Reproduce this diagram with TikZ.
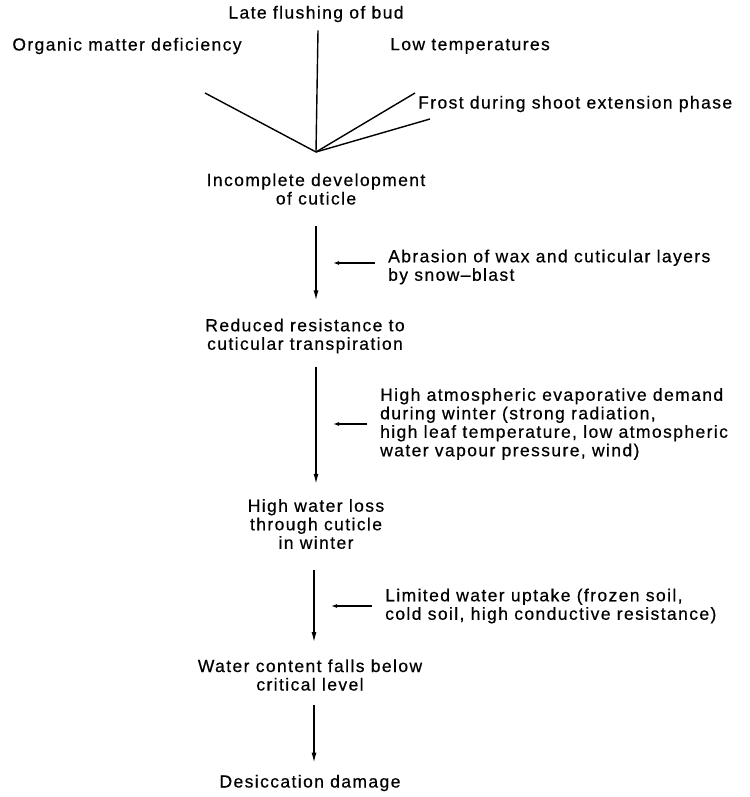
\documentclass[tikz,border=0pt]{standalone}
\usepackage{fontspec}
\setmainfont{Liberation Sans}[LetterSpace=8,FakeBold=0.5]
\usetikzlibrary{arrows.meta}

\begin{document}
\begin{tikzpicture}[x=1pt,y=-1pt,>={Latex[length=10pt,width=5pt]},
  every node/.style={font=\fontsize{17.5}{18.5}\selectfont,inner sep=0pt},
  stage/.style={align=center},
  factor/.style={align=left,anchor=west},
  fan/.style={line width=1.4pt},
  flow/.style={->,line width=1.4pt},
  push/.style={-{Latex[length=6pt,width=4pt]},line width=1.3pt,
               shorten <=13pt,shorten >=17pt}]
  \useasboundingbox (0,0) rectangle (749,797);

  % causes converging on the cuticle
  \node (late) at (316,14) {Late flushing of bud};
  \node (org) at (127,46) {Organic matter deficiency};
  \node[anchor=west] (lowt) at (390,46) {Low temperatures};
  \node[anchor=west] (frost) at (418,104) {Frost during shoot extension phase};
  \coordinate (hub) at (316,152);
  \coordinate (org-tip) at (205,93);
  \coordinate (lowt-tip) at (415,93);
  \coordinate (frost-tip) at (430,119);
  \draw[fan] (late.south) ++(2,8) -- (hub);
  \draw[fan] (org-tip) -- (hub);
  \draw[fan] (lowt-tip) -- (hub);
  \draw[fan] (frost-tip) -- (hub);

  % chain of stages
  \node[stage] (inc) at (316,189) {Incomplete development\\of cuticle};
  \node[stage] (red) at (305,336) {Reduced resistance to\\cuticular transpiration};
  \node[stage] (hwl) at (316,524) {High water loss\\through cuticle\\in winter};
  \node[stage] (wcf) at (310,675) {Water content falls below\\critical level};
  \node[stage] (des) at (310,783) {Desiccation damage};

  \draw[flow,shorten <=21pt,shorten >=18pt] (inc.south) -- (inc.south |- red.north);
  \draw[flow,shorten <=13pt,shorten >=15pt] (inc.south |- red.south) -- (inc.south |- hwl.north);
  \draw[flow,shorten <=21pt,shorten >=17pt] ([xshift=-2pt]hwl.south) -- ([xshift=-2pt]hwl.south |- wcf.north);
  \draw[flow,shorten <=14pt,shorten >=12pt] ([xshift=-2pt]hwl.south |- wcf.south) -- ([xshift=-2pt]hwl.south |- des.north);

  % aggravating factors
  \node[factor] (abr) at (388,267) {Abrasion of wax and cuticular layers\\by snow--blast};
  \node[factor] (hae) at (380,424) {High atmospheric evaporative demand\\during winter (strong radiation,\\high leaf temperature, low atmospheric\\water vapour pressure, wind)};
  \node[factor] (lwu) at (385,606) {Limited water uptake (frozen soil,\\cold soil, high conductive resistance)};

  \draw[push] ([yshift=4pt]abr.west) -- ([yshift=4pt]abr.west -| inc.south);
  \draw[push] (hae.west) -- (hae.west -| inc.south);
  \draw[push] (lwu.west) -- ([xshift=-2pt]lwu.west -| hwl.south);
\end{tikzpicture}
\end{document}
